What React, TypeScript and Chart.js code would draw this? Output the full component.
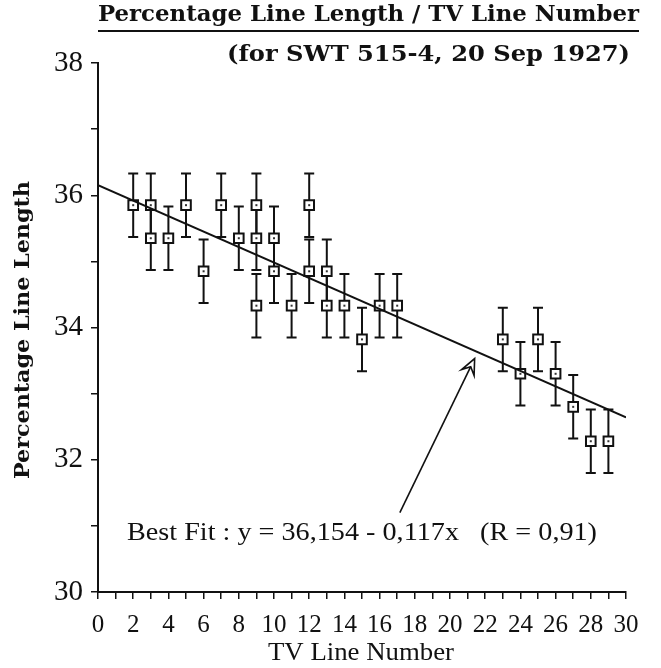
import React, { useEffect, useRef } from "react";
import { Chart, registerables } from "chart.js";

Chart.register(...registerables);

// ---- data ----
const lineNumbers = [2, 3, 3, 4, 5, 6, 7, 8, 9, 9, 9, 10, 10, 11, 12, 12, 13, 13, 14, 15, 16, 17, 23, 24, 25, 26, 27, 28, 29];
const lineLengths = [35.85, 35.85, 35.35, 35.35, 35.85, 34.85, 35.85, 35.35, 35.85, 35.35, 34.33, 35.35, 34.85, 34.33, 35.85, 34.85, 34.85, 34.33, 34.33, 33.82, 34.33, 34.33, 33.82, 33.3, 33.82, 33.3, 32.8, 32.28, 32.28];
const errorHalf = [0.48, 0.48, 0.48, 0.48, 0.48, 0.48, 0.48, 0.48, 0.48, 0.48, 0.48, 0.48, 0.48, 0.48, 0.48, 0.48, 0.48, 0.48, 0.48, 0.48, 0.48, 0.48, 0.48, 0.48, 0.48, 0.48, 0.48, 0.48, 0.48];
const fitX = [0, 30];
const fitY = [36.154, 32.64];
const xTickLabels = ["0", "2", "4", "6", "8", "10", "12", "14", "16", "18", "20", "22", "24", "26", "28", "30"];
const yTickLabels = ["30", "32", "34", "36", "38"];
const arrowFrom = { x: 17.15, y: 31.2 };
const arrowTo = { x: 21.4, y: 33.53 };
const fitTextPos = { x: 15.0, y: 30.79 };

const titleText = "Percentage Line Length / TV Line Number";
const subtitleText = "(for SWT 515-4, 20 Sep 1927)";
const fitText = "Best Fit : y = 36,154 - 0,117x   (R = 0,91)";
const xTitle = "TV Line Number";
const yTitle = "Percentage Line Length";

function drawFitted(ctx: CanvasRenderingContext2D, text: string, cx: number, by: number, targetW: number, font: string) {
  ctx.save();
  ctx.font = font;
  const w = ctx.measureText(text).width;
  ctx.translate(cx, by);
  ctx.scale(targetW / w, 1);
  ctx.textAlign = "center";
  ctx.textBaseline = "alphabetic";
  ctx.fillStyle = "#111";
  ctx.fillText(text, 0, 0);
  ctx.restore();
}

const decorPlugin = {
  id: "decor",
  beforeDatasetsDraw(chart: any) {
    const ctx = chart.ctx as CanvasRenderingContext2D;
    const xs = chart.scales.x;
    const ys = chart.scales.y;
    ctx.save();
    ctx.strokeStyle = "#111";
    ctx.lineWidth = 2;
    for (let i = 0; i < lineNumbers.length; i++) {
      const px = xs.getPixelForValue(lineNumbers[i]);
      const top = ys.getPixelForValue(lineLengths[i] + errorHalf[i]);
      const bot = ys.getPixelForValue(lineLengths[i] - errorHalf[i]);
      ctx.beginPath();
      ctx.moveTo(px, top);
      ctx.lineTo(px, bot);
      ctx.moveTo(px - 5, top);
      ctx.lineTo(px + 5, top);
      ctx.moveTo(px - 5, bot);
      ctx.lineTo(px + 5, bot);
      ctx.stroke();
    }
    ctx.restore();
  },
  afterDatasetsDraw(chart: any) {
    const ctx = chart.ctx as CanvasRenderingContext2D;
    const xs = chart.scales.x;
    const ys = chart.scales.y;
    ctx.save();
    ctx.fillStyle = "#333";
    for (let i = 0; i < lineNumbers.length; i++) {
      const px = xs.getPixelForValue(lineNumbers[i]);
      const py = ys.getPixelForValue(lineLengths[i]);
      ctx.fillRect(px - 1, py - 1, 2, 2);
    }
    // arrow
    const ax0 = xs.getPixelForValue(arrowFrom.x);
    const ay0 = ys.getPixelForValue(arrowFrom.y);
    const ax1 = xs.getPixelForValue(arrowTo.x);
    const ay1 = ys.getPixelForValue(arrowTo.y);
    const ang = Math.atan2(ay1 - ay0, ax1 - ax0);
    ctx.strokeStyle = "#111";
    ctx.lineWidth = 1.6;
    ctx.beginPath();
    ctx.moveTo(ax0, ay0);
    const notch = 9;
    ctx.lineTo(ax1 - notch * Math.cos(ang), ay1 - notch * Math.sin(ang));
    ctx.stroke();
    const hl = 17;
    const spread = 0.42;
    const w1x = ax1 - hl * Math.cos(ang - spread);
    const w1y = ay1 - hl * Math.sin(ang - spread);
    const w2x = ax1 - hl * Math.cos(ang + spread);
    const w2y = ay1 - hl * Math.sin(ang + spread);
    ctx.beginPath();
    ctx.moveTo(w1x, w1y);
    ctx.lineTo(ax1, ay1);
    ctx.lineTo(w2x, w2y);
    ctx.lineTo(ax1 - notch * Math.cos(ang), ay1 - notch * Math.sin(ang));
    ctx.closePath();
    ctx.stroke();
    // fit text
    const tx = xs.getPixelForValue(fitTextPos.x);
    const ty = ys.getPixelForValue(fitTextPos.y);
    drawFitted(ctx, fitText, tx, ty, 470, "26px 'Liberation Serif'");
    ctx.restore();
  },
  afterDraw(chart: any) {
    const ctx = chart.ctx as CanvasRenderingContext2D;
    ctx.save();
    drawFitted(ctx, titleText, 368.5, 21, 541, "bold 23px 'DejaVu Serif'");
    ctx.strokeStyle = "#111";
    ctx.lineWidth = 2;
    ctx.beginPath();
    ctx.moveTo(98, 31);
    ctx.lineTo(639, 31);
    ctx.stroke();
    drawFitted(ctx, subtitleText, 428.5, 61, 403, "bold 23px 'DejaVu Serif'");
    drawFitted(ctx, xTitle, 361, 660, 186, "25px 'Liberation Serif'");
    ctx.save();
    ctx.translate(29, 330);
    ctx.rotate(-Math.PI / 2);
    drawFitted(ctx, yTitle, 0, 0, 298, "bold 20px 'DejaVu Serif'");
    ctx.restore();
    ctx.restore();
  },
};

export default function App() {
  const ref = useRef<HTMLCanvasElement | null>(null);
  useEffect(() => {
    if (!ref.current) return;
    const points = lineNumbers.map((x, i) => ({ x, y: lineLengths[i] }));
    const fit = fitX.map((x, i) => ({ x, y: fitY[i] }));
    const chart = new Chart(ref.current, {
      type: "scatter",
      data: {
        datasets: [
          {
            type: "line",
            data: fit,
            borderColor: "#111",
            borderWidth: 2,
            pointRadius: 0,
            fill: false,
          } as any,
          {
            data: points,
            pointStyle: "rect",
            pointRadius: 6.8,
            pointBackgroundColor: "#fff",
            pointBorderColor: "#111",
            pointBorderWidth: 2,
          },
        ],
      },
      options: {
        animation: false,
        responsive: false,
        devicePixelRatio: 1,
        layout: { padding: { left: 0, top: 63, right: 35, bottom: 0 } },
        plugins: { legend: { display: false }, tooltip: { enabled: false }, title: { display: false } },
        scales: {
          x: {
            type: "linear",
            min: 0,
            max: 30,
            border: { display: true, color: "#111", width: 2 },
            grid: { display: true, drawOnChartArea: false, drawTicks: true, tickLength: 7, color: "#111", lineWidth: 1.5 },
            ticks: {
              stepSize: 1,
              autoSkip: false,
              maxRotation: 0,
              padding: 11,
              color: "#111",
              font: { family: "'Liberation Serif'", size: 25 },
              callback: (v: any) => {
                const s = String(v);
                return xTickLabels.includes(s) ? s : "";
              },
            },
            afterFit: (s: any) => {
              s.height = 76;
            },
          },
          y: {
            type: "linear",
            min: 30,
            max: 38,
            border: { display: true, color: "#111", width: 2 },
            grid: { display: true, drawOnChartArea: false, drawTicks: true, tickLength: 7, color: "#111", lineWidth: 1.5 },
            ticks: {
              stepSize: 1,
              autoSkip: false,
              padding: 8,
              color: "#111",
              font: { family: "'Liberation Serif'", size: 29 },
              callback: (v: any) => {
                const s = String(v);
                return yTickLabels.includes(s) ? s : "";
              },
            },
            afterFit: (s: any) => {
              s.width = 98;
            },
          },
        },
      },
      plugins: [decorPlugin],
    });
    return () => chart.destroy();
  }, []);
  return (
    <div style={{ position: "absolute", left: 0, top: 0, width: 661, height: 668, background: "#fff" }}>
      <canvas ref={ref} width={661} height={668} style={{ width: 661, height: 668, display: "block" }} />
    </div>
  );
}
